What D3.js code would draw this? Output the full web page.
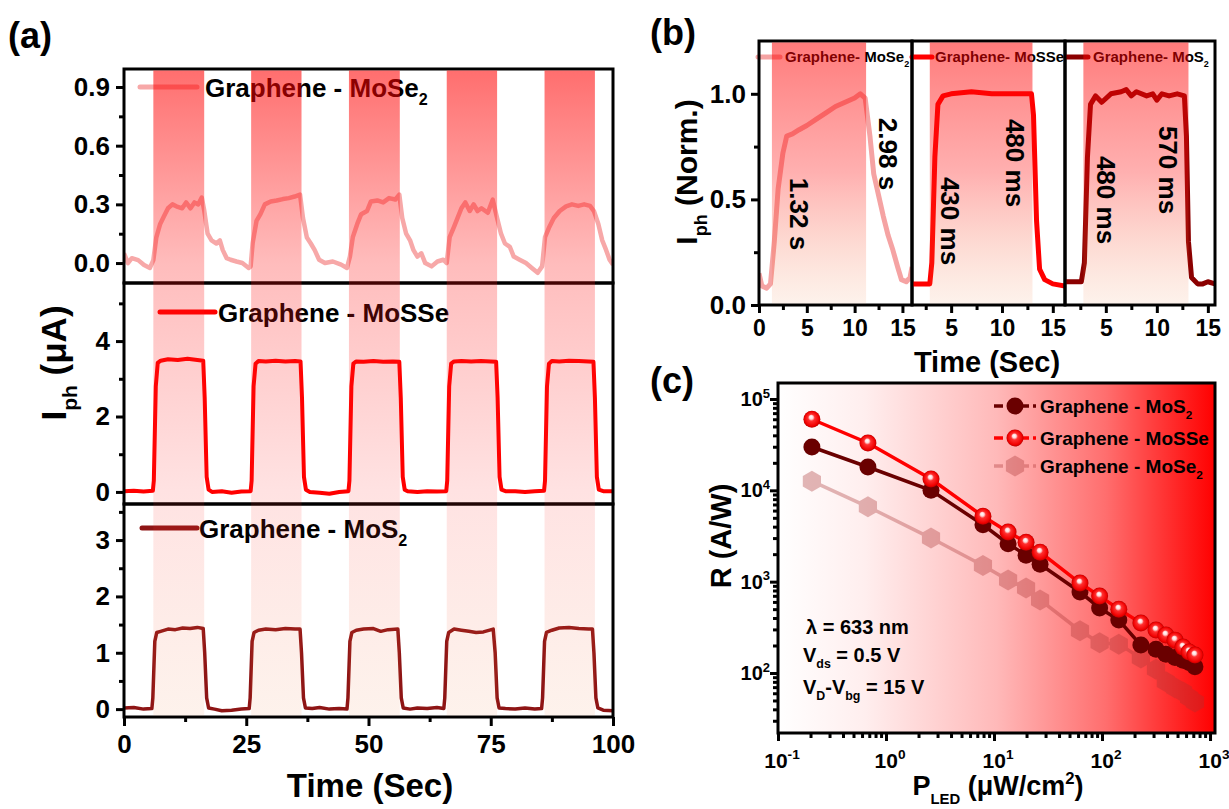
<!DOCTYPE html>
<meta charset="utf-8">
<title>Graphene - TMD photoresponse</title>
<style>
body{margin:0;background:#fff;}
svg text{font-family:"Liberation Sans",Arial,Helvetica,sans-serif;font-weight:bold;fill:#000;}
</style>
<body>
<script src="https://cdn.jsdelivr.net/npm/d3@7"></script>
<script>

// ---------- panel (a) : Iph vs time, [time (s), Iph (uA)] ----------
var aMoSe2 = [[0,0.05],[0.8,0.0],[1.6,0.025],[2.9,0.015],[4.1,-0.01],[5.3,-0.025],[6.0,0.015],[6.6,0.13],[7.4,0.2],[8.2,0.24],[9.0,0.28],[9.9,0.3],[10.7,0.29],[11.9,0.28],[12.7,0.31],[13.6,0.28],[14.4,0.31],[15.2,0.3],[15.9,0.335],[16.4,0.27],[17.1,0.15],[17.9,0.116],[18.9,0.1],[19.6,0.116],[20.2,0.066],[21.0,0.025],[21.8,0.017],[23.0,0.008],[24.2,0.0],[25.5,-0.025],
	[25.9,-0.017],[26.3,0.1],[27.1,0.216],[27.9,0.25],[28.8,0.3],[30.0,0.315],[31.2,0.32],[32.5,0.327],[33.7,0.332],[34.9,0.34],[36.0,0.35],[36.6,0.23],[37.4,0.13],[38.2,0.1],[39.0,0.066],[39.9,0.017],[41.1,0.0],[42.7,0.008],[44.4,-0.008],[45.6,-0.025],[46.2,0.033],
	[46.8,0.133],[47.7,0.2],[48.5,0.25],[49.7,0.266],[50.5,0.315],[51.8,0.32],[53.0,0.31],[54.2,0.332],[55.5,0.325],[56.3,0.35],[56.9,0.23],[57.7,0.15],[58.5,0.116],[59.2,0.066],[60.0,0.033],[60.8,0.05],[61.6,0.0],[62.9,-0.017],[64.1,0.008],[65.3,0.017],[66.0,0.0],
	[66.6,0.133],[67.4,0.18],[68.2,0.23],[69.0,0.28],[69.8,0.31],[70.7,0.266],[71.5,0.3],[72.3,0.266],[73.1,0.28],[74.4,0.257],[75.4,0.324],[76.3,0.23],[77.1,0.15],[77.9,0.1],[78.9,0.083],[79.7,0.033],[80.9,0.017],[82.2,0.0],[83.4,-0.025],[84.6,-0.05],[85.5,-0.017],
	[86.1,0.133],[86.9,0.18],[87.9,0.23],[89.1,0.266],[90.4,0.29],[91.6,0.3],[92.9,0.292],[94.1,0.3],[95.3,0.292],[96.1,0.266],[97.0,0.2],[97.8,0.116],[98.6,0.066],[99.3,0.017],[100,-0.008]];

var aMoSSe = [[0,0.02],[2,0.03],[4,0.01],[5.9,0.03],[6.1,0.3],[6.5,2.8],[6.9,3.42],[7.5,3.48],[9,3.52],[11,3.5],[13,3.53],[15,3.5],[16.2,3.48],[16.5,2.5],[16.9,0.4],[17.3,0.06],[18,0.0],[20,0.02],[22,-0.02],[24,0.01],[25.9,0.02],
	[26.1,0.3],[26.5,2.8],[26.9,3.4],[27.5,3.47],[29,3.46],[31,3.48],[33,3.46],[35,3.47],[36.1,3.46],[36.4,2.5],[36.8,0.4],[37.2,0.06],[38,0.0],[40,-0.02],[42,-0.05],[44,0.0],[45.9,0.02],
	[46.1,0.3],[46.5,2.8],[46.9,3.4],[47.5,3.46],[49,3.45],[51,3.47],[53,3.45],[55,3.46],[56.3,3.45],[56.6,2.5],[57.0,0.4],[57.4,0.06],[58,0.02],[60,0.0],[62,0.02],[64,0.01],[65.9,0.02],
	[66.1,0.3],[66.5,2.8],[66.9,3.4],[67.5,3.46],[69,3.47],[71,3.46],[73,3.47],[75,3.46],[76.1,3.45],[76.4,2.5],[76.8,0.4],[77.2,0.06],[78,0.02],[80,0.02],[82,0.0],[84,0.02],[85.9,0.03],
	[86.1,0.3],[86.5,2.8],[86.9,3.4],[87.5,3.47],[89,3.46],[91,3.48],[93,3.47],[95,3.46],[96.0,3.45],[96.3,2.5],[96.7,0.4],[97.1,0.06],[98,0.02],[100,0.02]];

var aMoS2 = [[0,0.02],[2,0.03],[4,0.0],[5.7,0.01],[5.9,0.2],[6.3,1.2],[6.7,1.36],[7.5,1.38],[9,1.42],[10.5,1.41],[12,1.44],[13.5,1.43],[15,1.45],[16.2,1.43],[16.5,1.0],[16.9,0.2],[17.3,0.02],[18.5,0.0],[20,-0.03],[22,-0.02],[24,0.0],[25.6,0.01],
	[25.8,0.2],[26.2,1.2],[26.6,1.36],[27.5,1.4],[29,1.42],[31,1.41],[33,1.43],[35,1.42],[36.0,1.42],[36.3,1.0],[36.7,0.2],[37.1,0.02],[38.5,0.01],[40,0.03],[42,0.0],[44,0.01],[45.6,0.0],
	[45.8,0.2],[46.2,1.2],[46.6,1.36],[47.5,1.4],[49,1.42],[51,1.43],[52.5,1.38],[54,1.41],[56.0,1.42],[56.3,1.0],[56.7,0.2],[57.1,0.02],[58.5,0.0],[60,0.02],[62,0.01],[64,0.03],[65.4,0.01],
	[65.6,0.2],[66.0,1.2],[66.4,1.36],[67.5,1.42],[69,1.4],[70.5,1.38],[72,1.36],[73.5,1.37],[75.5,1.42],[75.9,1.0],[76.3,0.2],[76.7,0.02],[78,0.01],[80,0.0],[82,0.02],[84,0.0],[85.4,0.01],
	[85.6,0.2],[86.0,1.2],[86.4,1.36],[87.5,1.4],[89,1.44],[91,1.45],[93,1.43],[95,1.42],[95.8,1.42],[96.1,1.0],[96.5,0.2],[96.9,0.02],[98,-0.02],[100,-0.03]];

var aLightOn = [[6,16.4],[26,36.3],[46,56.4],[66,76.3],[86,96.3]];
var aTimeTicks = [0,25,50,75,100];
var aTimeMinor = [12.5,37.5,62.5,87.5];
var aTopTicks = [0,0.3,0.6,0.9], aTopMinor = [0.15,0.45,0.75];
var aMidTicks = [0,2,4], aMidMinor = [1,3,5];
var aBotTicks = [0,1,2,3], aBotMinor = [0.5,1.5,2.5,3.5];

// ---------- panel (b) : normalised single pulse ----------
var bMoSe2 = [[0,0.15],[0.3,0.09],[0.8,0.08],[1.2,0.1],[1.6,0.3],[2.0,0.55],[2.5,0.72],[2.9,0.8],[3.5,0.81],[4.2,0.83],[5.0,0.85],[6.0,0.88],[7.0,0.91],[8.0,0.94],[9.0,0.96],[10.0,0.98],[10.6,1.0],[11.1,0.98],[11.6,0.8],[12.0,0.62],[12.6,0.5],[13.0,0.42],[13.5,0.33],[14.0,0.26],[14.5,0.18],[14.9,0.12],[15.4,0.11],[15.8,0.13],[16,0.18]];
var bMoSSe = [[1.15,0.1],[2.9,0.1],[3.1,0.2],[3.4,0.7],[3.7,0.95],[4.2,0.99],[5,1.0],[7,1.01],[9,1.0],[11,1.0],[12.9,1.0],[13.1,0.9],[13.4,0.4],[13.7,0.17],[14.2,0.12],[15,0.1],[16.2,0.09]];
var bMoS2 = [[1,0.11],[2.6,0.11],[2.9,0.2],[3.2,0.7],[3.5,0.95],[4.0,0.99],[4.6,0.96],[5.5,1.0],[6.5,1.01],[7.0,1.02],[7.5,0.99],[8.0,1.01],[9,0.99],[9.6,1.0],[10,0.97],[10.5,1.0],[11.2,0.99],[12,1.0],[12.7,0.99],[12.9,0.8],[13.1,0.3],[13.4,0.13],[14,0.1],[14.5,0.1],[15,0.11],[15.7,0.1]];
var bLightOn = [[1.35,11.2],[2.9,13.0],[2.8,13.1]];
var bNormTicks = [0,0.5,1.0], bNormMinor = [0.25,0.75];
var bTimeMinor = [2.5,7.5,12.5];

// ---------- panel (c) : responsivity vs LED power ----------
var cPower = [0.206,0.68,2.61,7.9,13.5,19.8,26.7,62.5,95,143,229,316,390,474,562,640,725];
var cMoSSe = [6.0e4,3.3e4,1.33e4,5.2e3,3.5e3,2.7e3,2.1e3,966,695,500,352,295,260,229,192,170,157];
var cMoS2 = [2.98e4,1.8e4,1.0e4,4.2e3,2.6e3,1.95e3,1.55e3,770,515,380,202,182,160,148,138,130,117];
var cMoSe2 = [1.26e4,6.6e3,3.0e3,1.5e3,1.04e3,850,630,290,214,207,146,110,80,69,62,54,48];
var cPowerTicks = [0.1,1,10,100,1000];
var cRespTicks = [100,1000,1e4,1e5];


var W = 1229, H = 809;
var svg = d3.select("body").append("svg").attr("width", W).attr("height", H);
var defs = svg.append("defs");

function vGrad(id, y1, y2, stops){
	var g = defs.append("linearGradient").attr("id", id).attr("gradientUnits", "userSpaceOnUse")
		.attr("x1", 0).attr("x2", 0).attr("y1", y1).attr("y2", y2);
	stops.forEach(function(s){
		g.append("stop").attr("offset", s[0]).attr("stop-color", s[1]).attr("stop-opacity", s[2]);
	});
}
vGrad("bandA", 69, 717, [[0,"#ff0000",0.57],[0.3,"#ff1010",0.28],[0.65,"#ff2020",0.13],[1,"#f08040",0.1]]);
vGrad("bandB", 41, 305, [[0,"#ff0000",0.52],[0.5,"#ff1010",0.33],[1,"#f08040",0.1]]);

var bgc = defs.append("linearGradient").attr("id", "bgC").attr("x1", 0).attr("x2", 1).attr("y1", 0).attr("y2", 0);
[[0,"#ffffff"],[0.2,"#ffeeee"],[0.5,"#ffb9b9"],[0.75,"#ff6e6e"],[1,"#ff0000"]].forEach(function(s){
	bgc.append("stop").attr("offset", s[0]).attr("stop-color", s[1]);
});
var sph = defs.append("radialGradient").attr("id", "sphere").attr("fx", 0.45).attr("fy", 0.35);
[[0,"#ffffff"],[0.22,"#ffd8d8"],[0.4,"#ff3030"],[0.85,"#f00000"],[1,"#b80000"]].forEach(function(s){
	sph.append("stop").attr("offset", s[0]).attr("stop-color", s[1]);
});

// text with sub / superscripts : parts = [[txt], [txt,"sub"], [txt,"sup"]]
function rich(g, parts, size){
	var t = g.append("text").attr("font-size", size);
	var off = 0;
	parts.forEach(function(p){
		var s = t.append("tspan").text(p[0]);
		var target = p[1] == "sub" ? size * 0.32 : p[1] == "sup" ? -size * 0.42 : 0;
		if (target != off) { s.attr("dy", target - off); off = target; }
		if (p[1]) s.attr("font-size", size * (p[2] || 0.62));
	});
	return t;
}

function styleAx(g, fs){
	g.attr("font-family", null).attr("font-size", null);
	g.select(".domain").remove();
	g.selectAll(".tick line").attr("stroke", "#000").attr("stroke-width", 3);
	g.selectAll(".tick text").attr("font-size", fs).attr("fill", "#000");
}

var line = d3.line();

// ================= (a) =================
var gA = svg.append("g");
var xA = d3.scaleLinear().domain([0, 100]).range([124, 613]);

var subA = [
	{y0: 69, y1: 283, dom: [-0.102, 0.992], major: aTopTicks, minor: aTopMinor, fmt: d3.format(".1f"), data: aMoSe2, color: "#f7a8a8", w: 4.5,
		leg: [["Graphene - MoSe"], ["2", "sub"]], lx: [140, 197], ly: 87, tx: 205},
	{y0: 283, y1: 504, dom: [-0.32, 5.54], major: aMidTicks, minor: aMidMinor, fmt: d3.format("d"), data: aMoSSe, color: "#ff0000", w: 4,
		leg: [["Graphene - MoSSe"]], lx: [160, 215], ly: 312, tx: 218},
	{y0: 504, y1: 717, dom: [-0.14, 3.64], major: aBotTicks, minor: aBotMinor, fmt: d3.format("d"), data: aMoS2, color: "#8e1515", w: 3.5,
		leg: [["Graphene - MoS"], ["2", "sub"]], lx: [142, 197], ly: 528, tx: 199}
];

subA.forEach(function(p, i){
	var y = d3.scaleLinear().domain(p.dom).range([p.y1, p.y0]);
	defs.append("clipPath").attr("id", "clipA" + i).append("rect")
		.attr("x", 124).attr("y", p.y0).attr("width", 489).attr("height", p.y1 - p.y0);
	gA.append("path").datum(p.data.map(function(d){ return [xA(d[0]), y(d[1])]; }))
		.attr("clip-path", "url(#clipA" + i + ")")
		.attr("d", line).attr("fill", "none").attr("stroke", p.color)
		.attr("stroke-width", p.w).attr("stroke-linejoin", "round");

	gA.append("line").attr("x1", p.lx[0]).attr("x2", p.lx[1]).attr("y1", p.ly).attr("y2", p.ly)
		.attr("stroke", p.color).attr("stroke-width", 5).attr("stroke-linecap", "round");
	rich(gA, p.leg, 26).attr("x", p.tx).attr("y", p.ly + 10);

	var ay = gA.append("g").attr("transform", "translate(124,0)")
		.call(d3.axisLeft(y).tickValues(p.major).tickFormat(p.fmt).tickSize(8).tickPadding(6).tickSizeOuter(0));
	styleAx(ay, 26);
	var my = gA.append("g").attr("transform", "translate(124,0)")
		.call(d3.axisLeft(y).tickValues(p.minor).tickFormat("").tickSize(5).tickSizeOuter(0));
	styleAx(my, 26);

	gA.append("rect").attr("x", 124).attr("y", p.y0).attr("width", 489).attr("height", p.y1 - p.y0)
		.attr("fill", "none").attr("stroke", "#000").attr("stroke-width", 3);
});

gA.selectAll(".bandA").data(aLightOn).enter().append("rect")
	.attr("x", function(d){ return xA(d[0]); })
	.attr("width", function(d){ return xA(d[1]) - xA(d[0]); })
	.attr("y", 70.5).attr("height", 645)
	.attr("fill", "url(#bandA)");

var axA = gA.append("g").attr("transform", "translate(0,717)")
	.call(d3.axisBottom(xA).tickValues(aTimeTicks).tickSize(9).tickPadding(9).tickSizeOuter(0));
styleAx(axA, 26);
var mxA = gA.append("g").attr("transform", "translate(0,717)")
	.call(d3.axisBottom(xA).tickValues(aTimeMinor).tickFormat("").tickSize(5).tickSizeOuter(0));
styleAx(mxA, 26);

gA.append("text").attr("x", 370).attr("y", 797).attr("text-anchor", "middle").attr("font-size", 33).text("Time (Sec)");
rich(gA, [["I"], ["ph", "sub", 0.6], [" ("], ["\u03bc"], ["A)"]], 35)
	.attr("text-anchor", "middle").attr("transform", "translate(66,363) rotate(-90)");
gA.append("text").attr("x", 8).attr("y", 48).attr("font-size", 36).text("(a)");

// ================= (b) =================
var gB = svg.append("g");
var yB = d3.scaleLinear().domain([0, 1.25]).range([305, 41]);
var subB = [
	{x0: 759, x1: 912, dom: [0, 16], data: bMoSe2, color: "#f5a3a3", on: bLightOn[0], ticks: [0,5,10,15],
		leg: [["Graphene- MoSe"], ["2", "sub", 0.6]], lx: [758, 780], tx: 785},
	{x0: 912, x1: 1065, dom: [1.15, 16.2], data: bMoSSe, color: "#ff0000", on: bLightOn[1], ticks: [5,10,15],
		leg: [["Graphene- MoSSe"]], lx: [912, 932], tx: 935},
	{x0: 1065, x1: 1215, dom: [1, 15.7], data: bMoS2, color: "#8b0000", on: bLightOn[2], ticks: [5,10,15],
		leg: [["Graphene- MoS"], ["2", "sub", 0.6]], lx: [1066, 1088], tx: 1093}
];

subB.forEach(function(p, i){
	var x = d3.scaleLinear().domain(p.dom).range([p.x0, p.x1]);
	defs.append("clipPath").attr("id", "clipB" + i).append("rect")
		.attr("x", p.x0).attr("y", 41).attr("width", p.x1 - p.x0).attr("height", 264);
	gB.append("path").datum(p.data.map(function(d){ return [x(d[0]), yB(d[1])]; }))
		.attr("clip-path", "url(#clipB" + i + ")")
		.attr("d", line).attr("fill", "none").attr("stroke", p.color)
		.attr("stroke-width", 5).attr("stroke-linejoin", "round");
	gB.append("line").attr("x1", p.lx[0]).attr("x2", p.lx[1]).attr("y1", 57).attr("y2", 57)
		.attr("stroke", p.color).attr("stroke-width", 5).attr("stroke-linecap", "round");
	rich(gB, p.leg, 15).attr("x", p.tx).attr("y", 62);

	gB.append("rect").attr("x", p.x0).attr("y", 41).attr("width", p.x1 - p.x0).attr("height", 264)
		.attr("fill", "none").attr("stroke", "#000").attr("stroke-width", 3);
	gB.append("rect").attr("x", x(p.on[0])).attr("width", x(p.on[1]) - x(p.on[0]))
		.attr("y", 42.5).attr("height", 261).attr("fill", "url(#bandB)");

	var axb = gB.append("g").attr("transform", "translate(0,305)")
		.call(d3.axisBottom(x).tickValues(p.ticks).tickSize(8).tickPadding(7).tickSizeOuter(0));
	styleAx(axb, 23);
	var mxb = gB.append("g").attr("transform", "translate(0,305)")
		.call(d3.axisBottom(x).tickValues(bTimeMinor).tickFormat("").tickSize(5).tickSizeOuter(0));
	styleAx(mxb, 23);
});

var ayB = gB.append("g").attr("transform", "translate(759,0)")
	.call(d3.axisLeft(yB).tickValues(bNormTicks).tickFormat(d3.format(".1f")).tickSize(8).tickPadding(5).tickSizeOuter(0));
styleAx(ayB, 26);
var myB = gB.append("g").attr("transform", "translate(759,0)")
	.call(d3.axisLeft(yB).tickValues(bNormMinor).tickFormat("").tickSize(5).tickSizeOuter(0));
styleAx(myB, 26);

var bNotes = [
	{t: "1.32 s", x: 799, y: 214}, {t: "2.98 s", x: 888, y: 154},
	{t: "430 ms", x: 950, y: 221}, {t: "480 ms", x: 1015, y: 163},
	{t: "480 ms", x: 1106, y: 200}, {t: "570 ms", x: 1168, y: 170}
];
gB.selectAll(".note").data(bNotes).enter().append("text")
	.attr("transform", function(d){ return "translate(" + d.x + "," + d.y + ") rotate(90)"; })
	.attr("text-anchor", "middle").attr("dy", "0.35em").attr("font-size", 26)
	.text(function(d){ return d.t; });

gB.append("text").attr("x", 987).attr("y", 372).attr("text-anchor", "middle").attr("font-size", 29).text("Time (Sec)");
rich(gB, [["I"], ["ph", "sub", 0.6], [" (Norm.)"]], 30)
	.attr("text-anchor", "middle").attr("transform", "translate(697,172) rotate(-90)");
gB.append("text").attr("x", 650).attr("y", 45).attr("font-size", 36).text("(b)");

// ================= (c) =================
var gC = svg.append("g");
var xC = d3.scaleLog().domain([0.1, Math.pow(10, 3.046)]).range([778, 1215]);
var yC = d3.scaleLog().domain([Math.pow(10, 1.343), Math.pow(10, 5.175)]).range([733, 383]);

gC.append("rect").attr("x", 778).attr("y", 383).attr("width", 437).attr("height", 350).attr("fill", "url(#bgC)");

function hexPath(r){
	var pts = d3.range(6).map(function(k){ var a = Math.PI / 3 * k + Math.PI / 6; return [r * Math.cos(a), r * Math.sin(a)]; });
	return "M" + pts.join("L") + "Z";
}

var seriesC = [
	{name: [["Graphene - MoSe"], ["2", "sub"]], vals: cMoSe2, color: "#aa3232", opacity: 0.34, mark: "hex", ly: 466},
	{name: [["Graphene - MoS"], ["2", "sub"]], vals: cMoS2, color: "#6a0000", opacity: 1, mark: "dark", ly: 406},
	{name: [["Graphene - MoSSe"]], vals: cMoSSe, color: "#ff0000", opacity: 1, mark: "sphere", ly: 438}
];

function drawMark(g, s, x, y){
	if (s.mark == "hex") {
		g.append("path").attr("d", hexPath(10.5)).attr("transform", "translate(" + x + "," + y + ")").attr("fill", s.color);
	} else if (s.mark == "dark") {
		g.append("circle").attr("cx", x).attr("cy", y).attr("r", 8.5).attr("fill", "#6a0000");
	} else {
		g.append("circle").attr("cx", x).attr("cy", y).attr("r", 8.5).attr("fill", "url(#sphere)");
	}
}

seriesC.forEach(function(s){
	var g = gC.append("g").attr("opacity", s.opacity);
	var pts = cPower.map(function(p, i){ return [xC(p), yC(s.vals[i])]; });
	g.append("path").datum(pts).attr("d", line).attr("fill", "none")
		.attr("stroke", s.color).attr("stroke-width", 3.5);
	pts.forEach(function(p){ drawMark(g, s, p[0], p[1]); });

	var lg = gC.append("g").attr("opacity", s.opacity);
	lg.append("line").attr("x1", 994).attr("x2", 1036).attr("y1", s.ly).attr("y2", s.ly)
		.attr("stroke", s.color).attr("stroke-width", 3.5).attr("stroke-dasharray", "9,4");
	drawMark(lg, s, 1015, s.ly);
	rich(gC, s.name, 19).attr("x", 1040).attr("y", s.ly + 7);
});

gC.append("rect").attr("x", 778).attr("y", 383).attr("width", 437).attr("height", 350)
	.attr("fill", "none").attr("stroke", "#000").attr("stroke-width", 3);

var isPow = function(d){ return Math.abs(Math.log10(d) - Math.round(Math.log10(d))) < 1e-6; };

var axC = gC.append("g").attr("transform", "translate(0,733)")
	.call(d3.axisBottom(xC).tickValues(cPowerTicks).tickFormat("").tickSize(8).tickSizeOuter(0));
styleAx(axC, 20);
var mxC = gC.append("g").attr("transform", "translate(0,733)")
	.call(d3.axisBottom(xC).tickValues(xC.ticks().filter(function(d){ return !isPow(d); })).tickFormat("").tickSize(5).tickSizeOuter(0));
styleAx(mxC, 20);
cPowerTicks.forEach(function(d){
	rich(gC, [["10"], [String(Math.round(Math.log10(d))), "sup", 0.65]], 21)
		.attr("x", xC(d) + 4).attr("y", 768).attr("text-anchor", "middle");
});

var ayC = gC.append("g").attr("transform", "translate(778,0)")
	.call(d3.axisLeft(yC).tickValues(cRespTicks).tickFormat("").tickSize(8).tickSizeOuter(0));
styleAx(ayC, 20);
var myC = gC.append("g").attr("transform", "translate(778,0)")
	.call(d3.axisLeft(yC).tickValues(yC.ticks().filter(function(d){ return !isPow(d); })).tickFormat("").tickSize(5).tickSizeOuter(0));
styleAx(myC, 20);
cRespTicks.forEach(function(d){
	rich(gC, [["10"], [String(Math.round(Math.log10(d))), "sup", 0.65]], 20)
		.attr("x", 770).attr("y", yC(d) + 7).attr("text-anchor", "end");
});

rich(gC, [["\u03bb = "], [" 633 nm"]], 20).attr("x", 806).attr("y", 634);
rich(gC, [["V"], ["ds", "sub"], [" = 0.5 V"]], 20).attr("x", 803).attr("y", 662);
rich(gC, [["V"], ["D", "sub"], ["-V"], ["bg", "sub"], [" = 15 V"]], 20).attr("x", 803).attr("y", 694);

rich(gC, [["R (A/W)"]], 29).attr("text-anchor", "middle").attr("transform", "translate(731,536) rotate(-90)");
rich(gC, [["P"], ["LED", "sub", 0.55], [" (\u03bcW/cm"], ["2", "sup"], [")"]], 27)
	.attr("x", 998).attr("y", 795).attr("text-anchor", "middle");
gC.append("text").attr("x", 650).attr("y", 393).attr("font-size", 36).text("(c)");

</script>
</body>
